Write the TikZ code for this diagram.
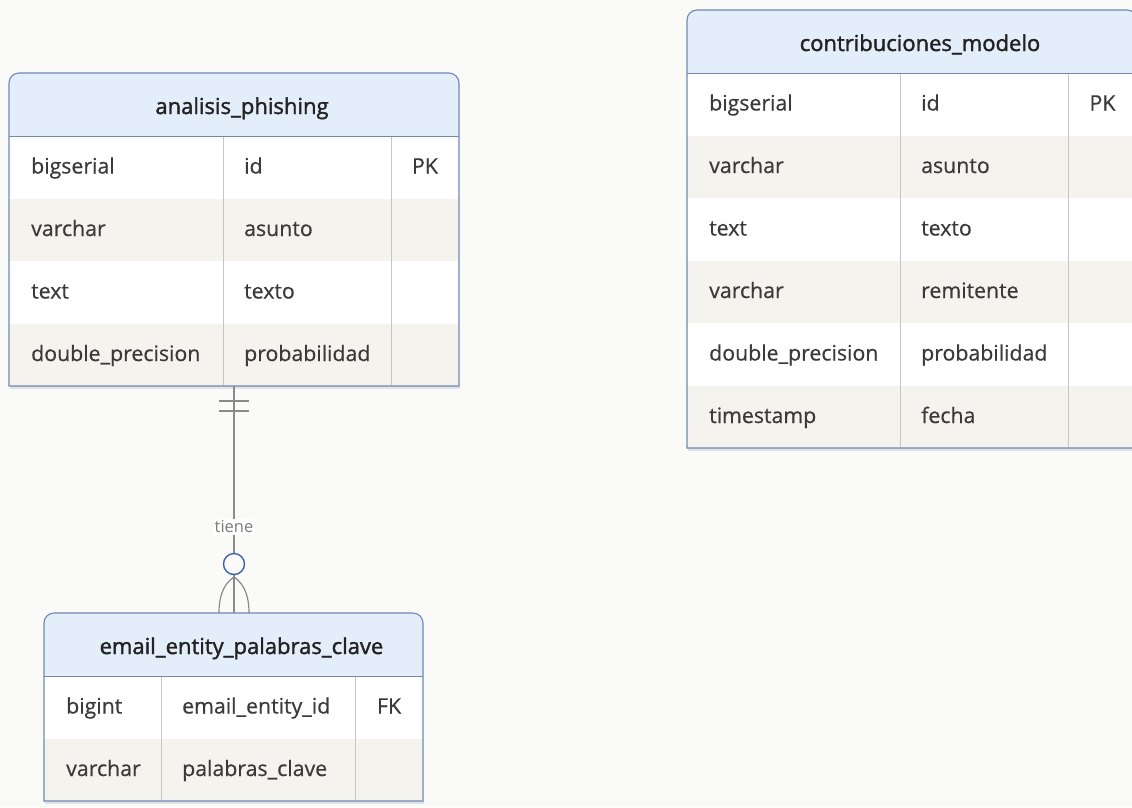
\documentclass[tikz,border=0pt]{standalone}
\usepackage{fontspec}
\setmainfont{Open Sans}
\newfontfamily\bodyfont{Open Sans}[FakeBold=0.5]
\newfontfamily\hdrfont{Open Sans}[FakeBold=1.6]
\usetikzlibrary{calc}
\definecolor{bgc}{HTML}{FAFAF8}
\definecolor{hdrfill}{HTML}{E4EEFA}
\definecolor{bordc}{HTML}{7088B4}
\definecolor{stripe}{HTML}{F4F3EE}
\definecolor{divc}{HTML}{C6C6C4}
\definecolor{txtc}{HTML}{3A3A3A}
\definecolor{hdrtxt}{HTML}{222222}
\definecolor{lnc}{HTML}{8A8A8A}
\definecolor{optc}{HTML}{3F62AA}
\definecolor{shadowc}{HTML}{E2E2E0}
\tikzset{
  tablebox/.style={draw=none, inner sep=0pt, outer sep=0pt},
  celltext/.style={anchor=base west, inner sep=0pt, text=txtc, font=\bodyfont\fontsize{21.3}{24}\selectfont},
  keytext/.style={anchor=base, inner sep=0pt, text=txtc, font=\bodyfont\fontsize{21.3}{24}\selectfont},
  hdrtext/.style={anchor=base, inner sep=0pt, text=hdrtxt, font=\hdrfont\fontsize{22}{26}\selectfont},
  conn/.style={draw=lnc, line width=1.2pt},
  bar/.style={draw=lnc, line width=1.2pt},
  optcircle/.style={circle, draw=optc, line width=1.4pt, fill=bgc, minimum size=21pt, inner sep=0pt},
  rellabel/.style={fill=white, inner sep=2pt, text=lnc!90!black, font=\fontsize{16.5}{20}\selectfont},
}
% #1 name, #2 x, #3 y, #4 c1, #5 c2, #6 c3, #7 nrows, #8 title, #9 rows
\newcommand\erdtable[9]{%
  \pgfmathsetmacro\tw{#4+#5+#6}%
  \pgfmathsetmacro\th{63+#7*62.5}%
  \node[tablebox, minimum width=\tw pt, minimum height=\th pt, anchor=north west] (#1) at (#2,#3) {};
  \fill[shadowc] (#2+1,#3+\th) rectangle (#2+\tw+1,#3+\th+3);
  \foreach \a/\b/\c [count=\i] in {#9} {
    \pgfmathsetmacro\ry{#3+63+(\i-1)*62.5}
    \ifodd\i\relax\def\rc{white}\else\def\rc{stripe}\fi
    \fill[\rc] (#2,\ry) rectangle ++(\tw,62.5);
    \node[celltext] (#1-\i-a) at (#2+22,\ry+37.5) {\a};
    \node[celltext] (#1-\i-b) at (#2+#4+21,\ry+37.5) {\b};
    \node[keytext] (#1-\i-c) at (#2+#4+#5+#6/2,\ry+37.5) {\c};
  }
  \fill[hdrfill] (#2,#3+63) -- (#2,#3+10) arc[start angle=180,end angle=90,radius=10pt]
     -- (#2+\tw-10,#3) arc[start angle=90,end angle=0,radius=10pt] -- (#2+\tw,#3+63) -- cycle;
  \draw[divc, line width=1pt] (#2+#4,#3+63) -- (#2+#4,#3+\th);
  \draw[divc, line width=1pt] (#2+#4+#5,#3+63) -- (#2+#4+#5,#3+\th);
  \draw[bordc, line width=1pt] (#2,#3+63) -- (#2+\tw,#3+63);
  \draw[bordc, line width=1.1pt] (#2,#3+\th) -- (#2,#3+10) arc[start angle=180,end angle=90,radius=10pt]
     -- (#2+\tw-10,#3) arc[start angle=90,end angle=0,radius=10pt] -- (#2+\tw,#3+\th) -- cycle;
  \node[hdrtext] (#1-title) at (#2+\tw/2+8,#3+41) {#8};
}
\begin{document}
\begin{tikzpicture}[x=1pt,y=-1pt]
\useasboundingbox (0,0) rectangle (1132,807);
\fill[bgc] (0,0) rectangle (1132,807);

\erdtable{t1}{9}{73}{214}{168}{68}{4}{analisis\_phishing}
  {bigserial/id/PK, varchar/asunto/{}, text/texto/{}, double\_precision/probabilidad/{}}
\erdtable{t2}{687}{10}{213}{168}{69}{6}{contribuciones\_modelo}
  {bigserial/id/PK, varchar/asunto/{}, text/texto/{}, varchar/remitente/{}, double\_precision/probabilidad/{}, timestamp/fecha/{}}
\erdtable{t3}{44}{613}{117}{194}{68}{2}{email\_entity\_palabras\_clave}
  {bigint/email\_entity\_id/FK, varchar/palabras\_clave/{}}

% relationship
\coordinate (top) at (t1.south);
\coordinate (bot) at (t3.north -| t1.south);
\draw[conn] (top) -- (bot) node[rellabel, pos=0.62] (lbl) {tiene};
\draw[bar] ($(top)+(-15,15)$) -- ++(30,0);
\draw[bar] ($(top)+(-15,25)$) -- ++(30,0);
\draw[conn] ($(bot)+(0,-36)$) .. controls ($(bot)+(-12,-28)$) and ($(bot)+(-15,-14)$) .. ($(bot)+(-15,0)$);
\draw[conn] ($(bot)+(0,-36)$) .. controls ($(bot)+(12,-28)$) and ($(bot)+(15,-14)$) .. ($(bot)+(15,0)$);
\node[optcircle] (opt) at ($(bot)+(0,-49)$) {};
\end{tikzpicture}
\end{document}
